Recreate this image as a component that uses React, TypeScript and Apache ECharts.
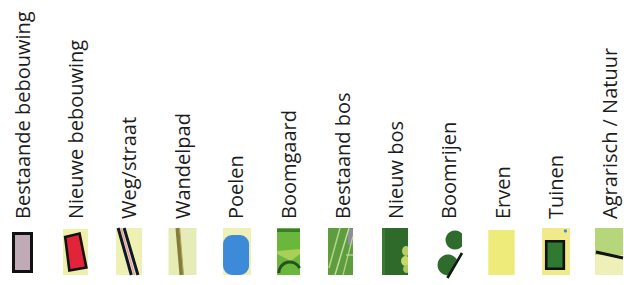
import React, { useEffect, useRef } from "react";
import * as echarts from "echarts";

// Legend categories (axis labels)
const categories = [
  "Bestaande bebouwing",
  "Nieuwe bebouwing",
  "Weg/straat",
  "Wandelpad",
  "Poelen",
  "Boomgaard",
  "Bestaand bos",
  "Nieuw bos",
  "Boomrijen",
  "Erven",
  "Tuinen",
  "Agrarisch / Natuur",
];

// Kind of swatch drawn for each category
const swatchKinds = [
  "building",
  "newBuilding",
  "road",
  "footpath",
  "pond",
  "orchard",
  "forest",
  "newForest",
  "treeRow",
  "yard",
  "garden",
  "farmland",
];

// Each swatch spans the full (0..1) value range
const swatchSpan = [1, 1, 1, 1, 1, 1, 1, 1, 1, 1, 1, 1];

const BAND = 53.36;
const SW_H = 47;

function renderSwatch(params: any, api: any) {
  const i = api.value(0) as number;
  const kind = swatchKinds[i];
  const topPt = api.coord([i, api.value(1)]);
  const botPt = api.coord([i, 0]);
  const cx = topPt[0];
  const top = topPt[1];
  const bottom = botPt[1];
  const s = api.size([1, 0])[0] / BAND;
  const v = (bottom - top) / SW_H;
  const X = (d: number) => cx + d * s;
  const Y = (d: number) => top + d * v;
  const rect = (x0: number, y0: number, x1: number, y1: number, style: any) => ({
    type: "rect",
    shape: { x: X(x0), y: Y(y0), width: (x1 - x0) * s, height: (y1 - y0) * v },
    style,
  });
  const line = (x0: number, y0: number, x1: number, y1: number, stroke: string, lw: number) => ({
    type: "line",
    shape: { x1: X(x0), y1: Y(y0), x2: X(x1), y2: Y(y1) },
    style: { stroke, lineWidth: lw, lineCap: "butt" },
  });
  const poly = (pts: number[][], style: any) => ({
    type: "polygon",
    shape: { points: pts.map(([a, b]) => [X(a), Y(b)]) },
    style,
  });
  const circle = (x: number, y: number, r: number, style: any) => ({
    type: "circle",
    shape: { cx: X(x), cy: Y(y), r: r * s },
    style,
  });
  const ellipse = (x: number, y: number, rx: number, ry: number, style: any) => ({
    type: "ellipse",
    shape: { cx: X(x), cy: Y(y), rx: rx * s, ry: ry * v },
    style,
  });

  const children: any[] = [];
  switch (kind) {
    case "building":
      children.push(
        rect(-8.5, 5.5, 9.5, 43.5, { fill: "#bfaab5", stroke: "#111", lineWidth: 3, lineJoin: "miter" })
      );
      break;
    case "newBuilding":
      children.push(rect(-12.4, 1, 12.6, 47, { fill: "#eef0aa" }));
      children.push(
        poly(
          [
            [-10.2, 9],
            [4.2, 5.5],
            [11, 39.5],
            [-6, 42.5],
          ],
          { fill: "#e2243a", stroke: "#111", lineWidth: 2.6, lineJoin: "miter" }
        )
      );
      break;
    case "road":
      children.push(rect(-12.7, 0, 13.3, 47, { fill: "#eef0b4" }));
      children.push(
        poly(
          [
            [-11.7, 0],
            [-3.7, 0],
            [10.3, 47],
            [1.3, 47],
          ],
          { fill: "#f6e2dc" }
        )
      );
      children.push(line(-7.7, 0, 5.8, 47, "#e6a29c", 1.6));
      children.push(line(-10.6, 0, 2.6, 47, "#101820", 3));
      children.push(line(-4.6, 0, 9.2, 47, "#101820", 3));
      break;
    case "footpath":
      children.push(rect(-13.6, 0, 14.4, 47, { fill: "#e6ecb8" }));
      children.push(line(-4.6, 0, -0.6, 47, "#857c38", 4));
      children.push(line(-2.4, 0, 1.4, 47, "#b0a860", 1));
      break;
    case "pond":
      children.push(rect(-12.4, 0, 15.6, 47, { fill: "#eef0b8" }));
      children.push({
        type: "rect",
        shape: { x: X(-12.4), y: Y(7), width: 26 * s, height: 40 * v, r: 9 * s },
        style: { fill: "#3d8ad8" },
      });
      break;
    case "orchard":
      children.push(rect(-11.8, 0, 11.2, 47, { fill: "#6ab73c" }));
      children.push(rect(-11.8, 1, 11.2, 4, { fill: "#3b7d2c" }));
      children.push(
        poly(
          [
            [-11.8, 23],
            [11.2, 21],
            [11.2, 26],
            [2, 33],
            [-11.8, 26],
          ],
          { fill: "#a9cf58" }
        )
      );
      children.push({
        type: "arc",
        shape: { cx: X(1), cy: Y(45), r: 11 * s, startAngle: Math.PI, endAngle: Math.PI * 1.85, clockwise: true },
        style: { stroke: "#23521f", lineWidth: 3, fill: null },
      });
      break;
    case "forest":
      children.push(rect(-14.2, 0, 10.8, 47, { fill: "#5d9d3f" }));
      children.push(rect(5.8, 1, 10.8, 17, { fill: "#8c8ea0" }));
      children.push(line(-2.2, 0, -13.2, 40, "#b7d58c", 1.5));
      children.push(line(6.8, 0, -7.2, 47, "#c2dc98", 1.5));
      children.push(line(10.8, 8, 0.8, 47, "#b7d58c", 1.2));
      children.push(line(3.8, 27, 10.8, 27, "#c2dc98", 1.2));
      break;
    case "newForest":
      children.push(rect(-13.5, 0, 12.5, 47, { fill: "#2f6a2b" }));
      children.push(rect(-13.5, 0, -10.5, 47, { fill: "#3a7a2e" }));
      children.push(ellipse(10.5, 23, 4, 5, { fill: "#b8cf62" }));
      children.push(ellipse(10, 33, 4.5, 5, { fill: "#c6d86c" }));
      children.push(ellipse(11, 41, 3.5, 4, { fill: "#a9c95a" }));
      children.push(rect(12.5, 15, 16, 47, { fill: "#ffffff" }));
      break;
    case "treeRow":
      children.push(circle(6.1, 12, 9.5, { fill: "#2e6b2c" }));
      children.push(circle(-0.9, 37, 10.5, { fill: "#2e6b2c" }));
      children.push(
        poly(
          [
            [13.1, 22],
            [20, 22],
            [20, 52],
            [-3, 52],
          ],
          { fill: "#ffffff" }
        )
      );
      children.push(rect(13.1, 0, 20, 24, { fill: "#ffffff" }));
      children.push(line(13.1, 25, -1.5, 50, "#0e1a10", 2.6));
      break;
    case "yard":
      children.push(rect(-14, 2, 12.4, 47, { fill: "#eeeb7a" }));
      break;
    case "garden":
      children.push(rect(-13.6, 0, 14.4, 47, { fill: "#f0ea8a" }));
      children.push(
        rect(-9.4, 13.2, 8.2, 40.8, { fill: "#2f7a30", stroke: "#111", lineWidth: 2.6, lineJoin: "miter" })
      );
      children.push(circle(9.8, 3, 1.6, { fill: "#3a8ad0" }));
      break;
    case "farmland":
      children.push(rect(-14, 0, 14, 27, { fill: "#b5d67a" }));
      children.push(rect(-14, 27, 14, 47, { fill: "#eef0b8" }));
      children.push(line(-13, 24, 14, 30, "#111", 3));
      break;
  }
  return { type: "group", children };
}

export default function App() {
  const ref = useRef<HTMLDivElement>(null);
  useEffect(() => {
    document.body.style.margin = "0";
    const chart = echarts.init(ref.current!, null, { renderer: "svg" });
    chart.setOption({
      animation: false,
      backgroundColor: "#ffffff",
      grid: {
        left: 22,
        right: 15,
        top: 228,
        bottom: 10,
        containLabel: false,
        outerBoundsMode: "none",
      },
      xAxis: {
        type: "category",
        position: "top",
        boundaryGap: false,
        data: categories,
        axisLine: { show: false },
        axisTick: { show: false },
        splitLine: { show: false },
        axisLabel: {
          interval: 0,
          rotate: 90,
          margin: 9,
          fontSize: 20,
          color: "#1c1c1c",
          fontFamily: "Open Sans",
        },
      },
      yAxis: {
        type: "value",
        min: 0,
        max: 1,
        show: false,
      },
      series: [
        {
          type: "custom",
          clip: false,
          renderItem: renderSwatch,
          data: swatchSpan.map((val, idx) => [idx, val]),
        },
      ],
    });
    return () => chart.dispose();
  }, []);
  return <div ref={ref} style={{ width: 624, height: 285, position: "absolute", left: 0, top: 0 }} />;
}
